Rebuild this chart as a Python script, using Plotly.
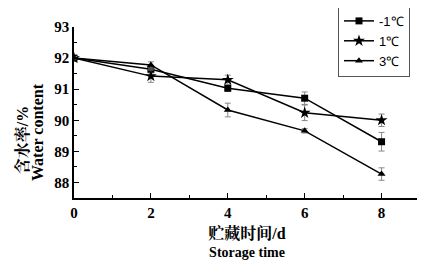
import plotly.graph_objects as go

days = [0, 2, 4, 6, 8]
series_names = ["-1℃", "1℃", "3℃"]
water_m1 = [92.0, 91.64, 91.03, 90.71, 89.31]
err_m1 = [0.05, 0.12, 0.1, 0.2, 0.3]
water_1 = [92.0, 91.42, 91.3, 90.24, 90.0]
err_1 = [0.05, 0.2, 0.15, 0.25, 0.2]
water_3 = [92.0, 91.78, 90.33, 89.66, 88.27]
err_3 = [0.05, 0.1, 0.22, 0.07, 0.2]
symbols = ["square", "star", "triangle-up"]
y_title_cn = "含水率/%"
y_title_en = "Water content"

fig = go.Figure()
for name, ys, es, sym in zip(series_names, [water_m1, water_1, water_3],
                             [err_m1, err_1, err_3], symbols):
    fig.add_trace(go.Scatter(
        x=days, y=ys, name=name, mode="lines+markers",
        line=dict(color="black", width=1.5),
        marker=dict(symbol=sym, size=7 if sym != "star" else 9, color="black"),
        error_y=dict(type="data", array=es, color="#888888", thickness=1, width=3),
    ))

serif = "Liberation Serif, Noto Serif CJK SC, Noto Sans CJK SC, serif"
fig.update_layout(
    width=425, height=264,
    margin=dict(l=66, r=13, t=19, b=74, autoexpand=False),
    paper_bgcolor="white", plot_bgcolor="white",
    showlegend=True,
    legend=dict(x=0.763, y=1.129, xanchor="left", yanchor="top",
                bordercolor="#555", borderwidth=1, bgcolor="white",
                font=dict(family="Liberation Sans, Arial", size=13, color="black"),
                tracegroupgap=0, itemwidth=30),
    xaxis=dict(range=[0, 9], tickvals=[0, 2, 4, 6, 8], showline=True, linecolor="black",
               linewidth=1.5, ticks="inside", ticklen=5, tickcolor="black",
               minor=dict(dtick=1, ticks="inside", ticklen=3, tickcolor="black"),
               showgrid=False, zeroline=False, automargin=False,
               tickfont=dict(family=serif, size=15, color="black", weight="bold"),
               title=dict(text="<b><span style='font-size:16px'>贮藏时间/d</span></b><br><b>Storage time</b>",
                          font=dict(family=serif, size=14, color="black"), standoff=9)),
    yaxis=dict(range=[87.5, 93], tickvals=[88, 89, 90, 91, 92, 93], showline=True,
               linecolor="black", linewidth=1.5, ticks="inside", ticklen=5, tickcolor="black",
               minor=dict(dtick=0.5, ticks="inside", ticklen=3, tickcolor="black"),
               showgrid=False, zeroline=False, automargin=False,
               tickfont=dict(family=serif, size=15, color="black", weight="bold")),
    annotations=[
        dict(text="<b>" + y_title_cn + "</b>", xref="paper", yref="paper",
             x=-0.15, y=0.339, xanchor="center", yanchor="middle", textangle=-90,
             showarrow=False, font=dict(family=serif, size=16, color="black")),
        dict(text="<b>" + y_title_en + "</b>", xref="paper", yref="paper",
             x=-0.104, y=0.386, xanchor="center", yanchor="middle", textangle=-90,
             showarrow=False, font=dict(family=serif, size=16, color="black")),
    ],
)
fig.write_html("out.html")
